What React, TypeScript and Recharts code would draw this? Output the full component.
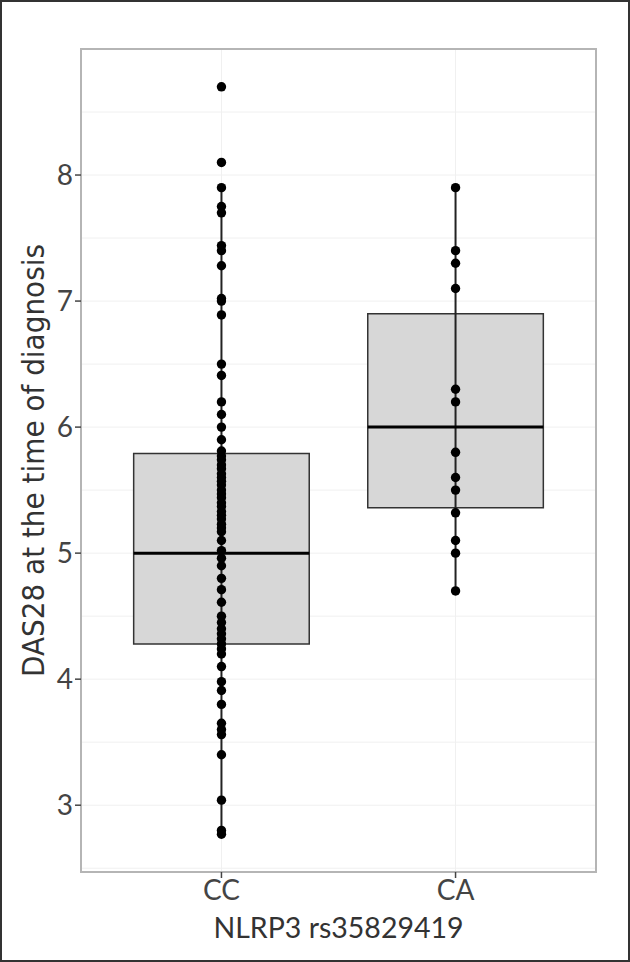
import * as React from "react";
import {
  CartesianGrid,
  ComposedChart,
  ReferenceArea,
  ReferenceLine,
  Scatter,
  XAxis,
  YAxis,
} from "recharts";

// genotype groups, in axis order
const GROUPS = ["CC", "CA"];

// DAS28 values per patient
const CC_VALUES = [
  8.7, 8.1, 7.9, 7.75, 7.7, 7.44, 7.4, 7.28, 7.02, 7.0, 6.89, 6.5, 6.41, 6.2,
  6.1, 6.0, 5.9, 5.81, 5.77, 5.74, 5.7, 5.67, 5.63, 5.6, 5.57, 5.54, 5.5, 5.47,
  5.44, 5.4, 5.37, 5.33, 5.3, 5.27, 5.23, 5.2, 5.17, 5.1, 5.02, 4.96, 4.9, 4.8,
  4.71, 4.61, 4.5, 4.45, 4.4, 4.36, 4.32, 4.28, 4.24, 4.2, 4.1, 3.98, 3.91, 3.8,
  3.65, 3.6, 3.56, 3.4, 3.04, 2.8, 2.77,
];
const CA_VALUES = [7.9, 7.4, 7.3, 7.1, 6.3, 6.2, 5.8, 5.6, 5.5, 5.32, 5.1, 5.0, 4.7];

// box summaries, one entry per group
const WHISKER_LOW = [2.77, 4.7];
const Q1 = [4.28, 5.36];
const MEDIAN = [5.0, 6.0];
const Q3 = [5.79, 6.9];
const WHISKER_HIGH = [7.9, 7.9];

const Y_TICKS = [3, 4, 5, 6, 7, 8];
const Y_GRID = [2.5, 3, 3.5, 4, 4.5, 5, 5.5, 6, 6.5, 7, 7.5, 8, 8.5];

const Y_DOMAIN: [number, number] = [2.47, 9.0];
const X_DOMAIN: [number, number] = [0.4, 2.6];
const HALF_BOX = 0.375;

const TICK_FONT = "Lato, 'DejaVu Sans', sans-serif";
const TITLE_FONT = "'DejaVu Sans Condensed', 'DejaVu Sans', sans-serif";

function Dot(props: any) {
  const { cx, cy } = props;
  if (cx == null || cy == null) return null;
  return <circle cx={cx} cy={cy} r={4.7} fill="#000" />;
}

export default function App() {
  const series = [CC_VALUES, CA_VALUES].map((vals, i) =>
    vals.map((v) => ({ x: i + 1, y: v }))
  );

  return (
    <div
      style={{
        position: "absolute",
        left: 0,
        top: 0,
        width: 630,
        height: 962,
        background: "#fff",
      }}
    >
      <ComposedChart
        width={630}
        height={962}
        margin={{ top: 49, right: 34, bottom: 0, left: 0 }}
      >
        <CartesianGrid
          stroke="#f0f0f0"
          strokeWidth={1}
          horizontalValues={Y_GRID}
          verticalValues={[1, 2]}
        />
        <XAxis
          type="number"
          dataKey="x"
          domain={X_DOMAIN}
          ticks={[1, 2]}
          allowDataOverflow
          height={90}
          tickFormatter={(v: number) => GROUPS[v - 1] ?? ""}
          axisLine={false}
          tickLine={{ stroke: "#444", strokeWidth: 1.5 }}
          tickSize={6}
          tick={{ fill: "#444", fontSize: 28, fontFamily: TICK_FONT }}
          label={{
            value: "NLRP3 rs35829419",
            position: "insideBottom",
            offset: 24,
            style: { fill: "#333", fontSize: 28.5, fontFamily: TICK_FONT },
          }}
        />
        <YAxis
          type="number"
          dataKey="y"
          domain={Y_DOMAIN}
          ticks={Y_TICKS}
          allowDataOverflow
          width={81}
          axisLine={false}
          tickLine={{ stroke: "#444", strokeWidth: 1.5 }}
          tickSize={6}
          tick={{ fill: "#444", fontSize: 28, fontFamily: TICK_FONT }}
          label={{
            value: "DAS28 at the time of diagnosis",
            angle: -90,
            position: "center",
            dx: -8,
            style: { fill: "#333", fontSize: 31, fontFamily: TITLE_FONT },
          }}
        />
        {GROUPS.map((g, i) => (
          <ReferenceLine
            key={`wl-${g}`}
            segment={[
              { x: i + 1, y: WHISKER_LOW[i] },
              { x: i + 1, y: WHISKER_HIGH[i] },
            ]}
            stroke="#222"
            strokeWidth={2}
          />
        ))}
        {GROUPS.map((g, i) => (
          <ReferenceArea
            key={`box-${g}`}
            x1={i + 1 - HALF_BOX}
            x2={i + 1 + HALF_BOX}
            y1={Q1[i]}
            y2={Q3[i]}
            fill="#d7d7d7"
            fillOpacity={1}
            stroke="#333"
            strokeWidth={1.5}
          />
        ))}
        {GROUPS.map((g, i) => (
          <ReferenceLine
            key={`med-${g}`}
            segment={[
              { x: i + 1 - HALF_BOX, y: MEDIAN[i] },
              { x: i + 1 + HALF_BOX, y: MEDIAN[i] },
            ]}
            stroke="#000"
            strokeWidth={3}
          />
        ))}
        <ReferenceArea
          x1={X_DOMAIN[0]}
          x2={X_DOMAIN[1]}
          y1={Y_DOMAIN[0]}
          y2={Y_DOMAIN[1]}
          fill="none"
          stroke="#b5b5b5"
          strokeWidth={2}
        />
        {series.map((data, i) => (
          <Scatter
            key={GROUPS[i]}
            data={data}
            shape={<Dot />}
            isAnimationActive={false}
          />
        ))}
      </ComposedChart>
      <div
        style={{
          position: "absolute",
          inset: 0,
          border: "2px solid #333",
          boxSizing: "border-box",
          pointerEvents: "none",
        }}
      />
    </div>
  );
}
